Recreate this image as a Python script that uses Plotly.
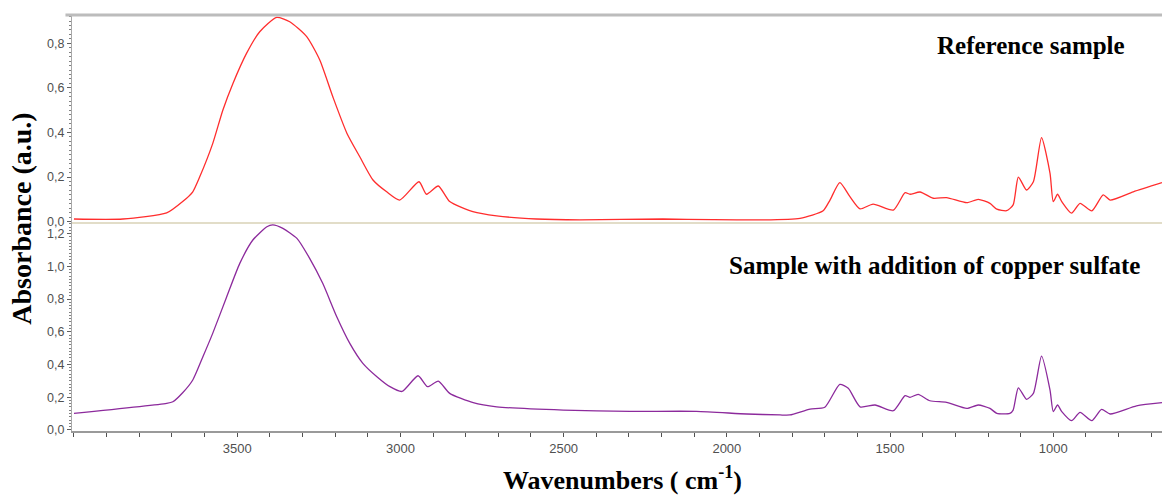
import plotly.graph_objects as go
from plotly.subplots import make_subplots

# Wavenumbers (cm-1) and absorbance
wn_ref = [4000, 3850, 3716, 3667, 3636, 3615, 3575, 3544, 3513, 3471, 3431, 3379, 3339,
          3287, 3247, 3207, 3164, 3124, 3084, 3042, 3002, 2943, 2920, 2884, 2849, 2778,
          2705, 2583, 2450, 2196, 2043, 1899, 1776, 1705, 1684, 1654, 1623, 1592, 1552,
          1490, 1454, 1439, 1408, 1368, 1327, 1265, 1230, 1194, 1173, 1143, 1123, 1107,
          1082, 1061, 1036, 1010, 1000, 987, 974, 944, 918, 882, 847, 826, 755, 667]
abs_ref = [0.012, 0.012, 0.039, 0.090, 0.134, 0.200, 0.350, 0.500, 0.620, 0.756, 0.852,
           0.916, 0.897, 0.830, 0.725, 0.560, 0.397, 0.290, 0.187, 0.134, 0.097, 0.179,
           0.123, 0.160, 0.090, 0.045, 0.026, 0.012, 0.008, 0.012, 0.009, 0.008, 0.015,
           0.049, 0.097, 0.175, 0.112, 0.057, 0.079, 0.052, 0.130, 0.123, 0.133, 0.105,
           0.108, 0.085, 0.100, 0.082, 0.056, 0.049, 0.075, 0.200, 0.142, 0.179, 0.377,
           0.217, 0.090, 0.123, 0.090, 0.038, 0.082, 0.048, 0.120, 0.097, 0.134, 0.175]

wn_cu = [4000, 3716, 3697, 3667, 3636, 3605, 3575, 3532, 3492, 3452, 3409, 3391, 3360,
         3317, 3278, 3238, 3195, 3155, 3115, 3072, 3032, 2995, 2946, 2917, 2884, 2849,
         2777, 2705, 2501, 2297, 2093, 1939, 1837, 1807, 1745, 1700, 1654, 1628, 1592,
         1546, 1490, 1454, 1439, 1414, 1378, 1327, 1265, 1230, 1194, 1173, 1133, 1123,
         1107, 1082, 1061, 1036, 1010, 1000, 987, 974, 944, 918, 882, 852, 826, 745, 667]
abs_cu = [0.101, 0.162, 0.172, 0.227, 0.305, 0.447, 0.590, 0.814, 1.018, 1.161, 1.242,
          1.253, 1.232, 1.171, 1.049, 0.896, 0.692, 0.529, 0.407, 0.325, 0.264, 0.235,
          0.331, 0.264, 0.298, 0.223, 0.166, 0.141, 0.121, 0.113, 0.113, 0.097, 0.091,
          0.091, 0.127, 0.138, 0.278, 0.254, 0.141, 0.152, 0.117, 0.209, 0.199, 0.217,
          0.178, 0.168, 0.131, 0.152, 0.131, 0.101, 0.101, 0.121, 0.257, 0.187, 0.223,
          0.451, 0.243, 0.111, 0.152, 0.111, 0.056, 0.107, 0.056, 0.125, 0.097, 0.147,
          0.166]

x_ticks = [3500, 3000, 2500, 2000, 1500, 1000]
y_ticks_top = [0.0, 0.2, 0.4, 0.6, 0.8]
y_ticks_bot = [0.0, 0.2, 0.4, 0.6, 0.8, 1.0, 1.2]

label_ref = "Reference sample"
label_cu = "Sample with addition of copper sulfate"

fig = make_subplots(rows=2, cols=1, shared_xaxes=True, vertical_spacing=0)

fig.add_trace(go.Scatter(x=wn_ref, y=abs_ref, mode="lines", line_shape="spline",
                         line=dict(color="#ff2d2d", width=1.3, smoothing=0.6),
                         showlegend=False), row=1, col=1)
fig.add_trace(go.Scatter(x=wn_cu, y=abs_cu, mode="lines", line_shape="spline",
                         line=dict(color="#8c2a9c", width=1.3, smoothing=0.6),
                         showlegend=False), row=2, col=1)

ytickfont = dict(family="Liberation Sans, Arial, sans-serif", size=12.5, color="#505050")
xtickfont = dict(family="Liberation Sans Narrow, Arial Narrow, Liberation Sans, sans-serif",
                 size=13, color="#505050")
serif = "Liberation Serif, Times New Roman, serif"

yax_common = dict(showgrid=False, zeroline=False, showline=True, linecolor="#a8a8a8",
                  linewidth=1, ticks="outside", ticklen=4, tickcolor="#606060",
                  tickformat=".1f", tickfont=ytickfont,
                  minor=dict(dtick=0.02, ticks="outside", ticklen=2, tickcolor="#808080"))

fig.update_yaxes(range=[-0.006, 0.927], tickvals=y_ticks_top, row=1, col=1, **yax_common)
fig.update_yaxes(range=[-0.007, 1.265], tickvals=y_ticks_bot, row=2, col=1, **yax_common)

fig.update_xaxes(range=[4006, 667], showgrid=False, zeroline=False, row=1, col=1,
                 showticklabels=False, showline=False, ticks="")
fig.update_xaxes(range=[4006, 667], showgrid=False, zeroline=False, row=2, col=1,
                 showline=True, linecolor="#9a9a9a", linewidth=2,
                 tickvals=x_ticks, ticks="outside", ticklen=4, tickcolor="#505050",
                 tickfont=xtickfont,
                 minor=dict(dtick=100, ticks="outside", ticklen=4, tickcolor="#505050"))

fig.update_layout(
    width=1162, height=495,
    margin=dict(l=72, r=0, t=15, b=64),
    paper_bgcolor="white", plot_bgcolor="white",
    separators=", ",
    shapes=[
        dict(type="line", xref="paper", yref="paper", x0=-0.006, x1=1, y0=1, y1=1,
             line=dict(color="#bcbcbc", width=3)),
        dict(type="line", xref="paper", yref="paper", x0=0, x1=1, y0=0.5, y1=0.5,
             line=dict(color="#e2ddc8", width=2)),
    ],
    annotations=[
        dict(text="<b>Absorbance (a.u.)</b>", xref="paper", yref="paper",
             x=-0.046, y=0.51, xanchor="center", yanchor="middle", textangle=-90,
             showarrow=False, font=dict(family=serif, size=28, color="black")),
        dict(text="<b>Wavenumbers ( cm<sup>-1</sup>)</b>", xref="paper", yref="paper",
             x=0.5046, y=-0.115, xanchor="center", yanchor="middle", showarrow=False,
             font=dict(family=serif, size=26, color="black")),
        dict(text="<b>" + label_ref + "</b>", xref="paper", yref="paper",
             x=0.880, y=0.9255, xanchor="center", yanchor="middle", showarrow=False,
             font=dict(family=serif, size=25, color="black")),
        dict(text="<b>" + label_cu + "</b>", xref="paper", yref="paper",
             x=0.791, y=0.399, xanchor="center", yanchor="middle", showarrow=False,
             font=dict(family=serif, size=25, color="black")),
    ],
)

fig.write_html("out.html", config={"displayModeBar": False},
               post_script="document.body.style.margin='0';document.body.style.overflow='hidden';")
